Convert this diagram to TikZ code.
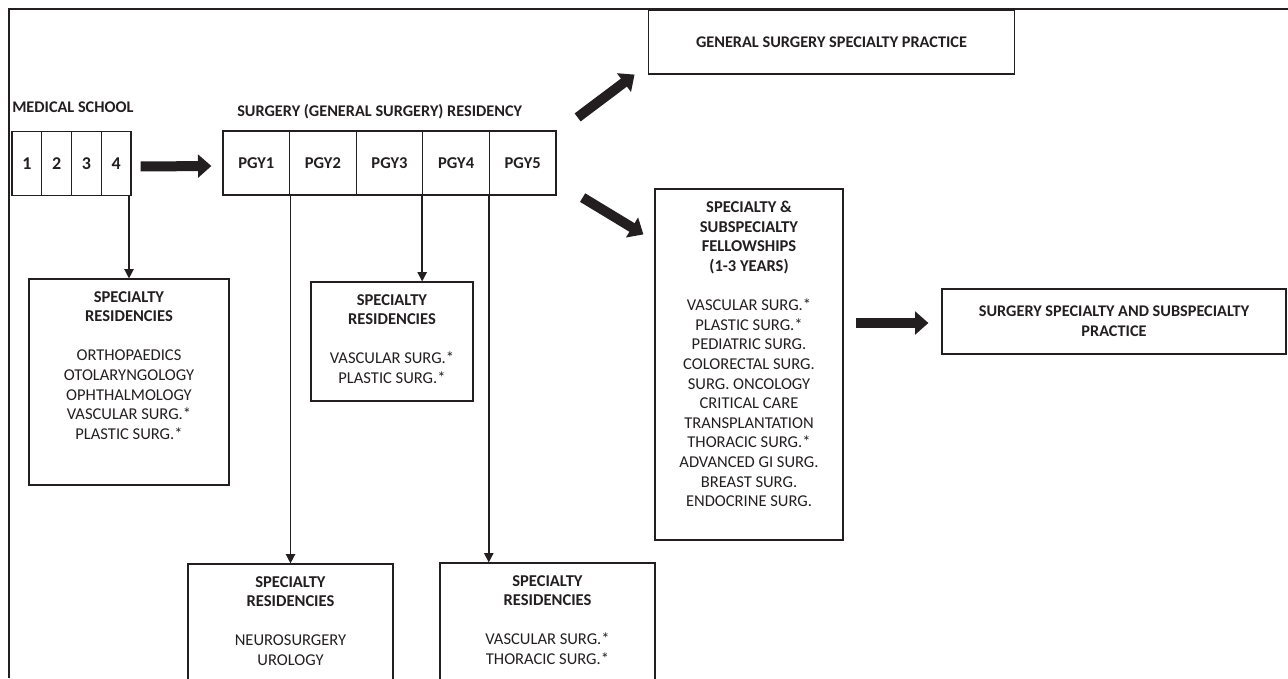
\documentclass[tikz,border=0pt]{standalone}
\usepackage{fontspec}
\setmainfont{Carlito}
\usetikzlibrary{arrows.meta, calc, positioning}
\definecolor{ink}{HTML}{231F20}

\begin{document}
\begin{tikzpicture}[x=0.75pt, y=-0.75pt, ink,
    every node/.style={font=\fontsize{12.4}{14.7}\selectfont, inner sep=0pt, text=ink},
    cell/.style={draw, line width=0.9pt, minimum height=48pt, font=\fontsize{12.4}{14.7}\selectfont\bfseries},
    box/.style={draw, line width=0.9pt},
    boxtext/.style={anchor=north, align=center, yshift=-9.5pt},
    conn/.style={line width=1.1pt, -{Triangle[width=7pt,length=7pt]}},
    blockarrow/.style={line width=7.5pt, -{Triangle[width=17pt,length=10pt]}}]
  \useasboundingbox (0,0) rectangle (1288,678);

  \draw[line width=0.9pt] (9,678) -- (9,9) -- (1288,9);

  \node[anchor=base west, font=\fontsize{12.2}{14.7}\selectfont\bfseries] (medlbl) at (12,112.3) {MEDICAL SCHOOL};
  \foreach \n in {1,...,4}
    \node[cell, minimum width=22.3pt, font=\fontsize{13.5}{14.7}\selectfont\bfseries] (m\n) at ({12+29.75*(\n-0.5)},163.5) {\n};

  \node[anchor=base west, font=\fontsize{12.2}{14.7}\selectfont\bfseries] (reslbl) at (237,116.3) {SURGERY (GENERAL SURGERY) RESIDENCY};
  \foreach \n in {1,...,5}
    \node[cell, minimum width=50pt] (p\n) at ({223+66.6*(\n-0.5)},163) {PGY\n};

  \node[box, minimum width=275pt, minimum height=48pt, font=\fontsize{12.2}{14.7}\selectfont\bfseries] (gs) at (831.5,42) {GENERAL SURGERY SPECIALTY PRACTICE};
  \node[box, minimum width=258pt, minimum height=48.75pt, align=center, font=\fontsize{12.2}{14.7}\selectfont\bfseries] (prac) at (1114,321.5) {SURGERY SPECIALTY AND SUBSPECIALTY\\PRACTICE};

  \node[box, minimum width=150pt, minimum height=154.5pt] (res1) at (129,382) {};
  \node[box, minimum width=121.5pt, minimum height=89.25pt] (res3) at (392,341.5) {};
  \node[box, minimum width=153.75pt, minimum height=117pt] (res2) at (290.5,642) {};
  \node[box, minimum width=161.25pt, minimum height=117.75pt] (res4) at (547.5,641.5) {};
  \node[box, minimum width=141pt, minimum height=263.25pt] (fel) at (749,364.5) {};

  \node[boxtext] (res1txt) at (res1.north) {\textbf{SPECIALTY}\\\textbf{RESIDENCIES}\\[14.7pt]ORTHOPAEDICS\\OTOLARYNGOLOGY\\OPHTHALMOLOGY\\VASCULAR SURG.*\\PLASTIC SURG.*};
  \node[boxtext] (res3txt) at (res3.north) {\textbf{SPECIALTY}\\\textbf{RESIDENCIES}\\[14.7pt]VASCULAR SURG.*\\PLASTIC SURG.*};
  \node[boxtext] (res2txt) at (res2.north) {\textbf{SPECIALTY}\\\textbf{RESIDENCIES}\\[14.7pt]NEUROSURGERY\\UROLOGY};
  \node[boxtext] (res4txt) at (res4.north) {\textbf{SPECIALTY}\\\textbf{RESIDENCIES}\\[14.7pt]VASCULAR SURG.*\\THORACIC SURG.*};
  \node[boxtext] (feltxt) at (fel.north) {\textbf{SPECIALTY \&}\\\textbf{SUBSPECIALTY}\\\textbf{FELLOWSHIPS}\\\textbf{(1-3 YEARS)}\\[14.7pt]VASCULAR SURG.*\\PLASTIC SURG.*\\PEDIATRIC SURG.\\COLORECTAL SURG.\\SURG. ONCOLOGY\\CRITICAL CARE\\TRANSPLANTATION\\THORACIC SURG.*\\ADVANCED GI SURG.\\BREAST SURG.\\ENDOCRINE SURG.};

  \draw[blockarrow] ($(m4.east)+(9,3)$) -- ($(p1.west)+(-11,3)$);
  \draw[blockarrow] ($(p5.north east)+(21,-13)$) -- ($(gs.south west)+(-13,0)$);
  \draw[blockarrow] ($(p5.south east)+(26,2)$) -- ($(fel.north west)+(-11,46)$);
  \draw[blockarrow] ($(prac.west)+(-85,1.5)$) -- ($(prac.west)+(-13,1.5)$);

  \draw[conn] (res1.north |- m4.south) -- (res1.north);
  \draw[conn] (res2.north |- p1.south) -- (res2.north);
  \draw[conn] (p4.south west) -- (p4.south west |- res3.north);
  \draw[conn] (p5.south west) -- (p5.south west |- res4.north);
\end{tikzpicture}
\end{document}
